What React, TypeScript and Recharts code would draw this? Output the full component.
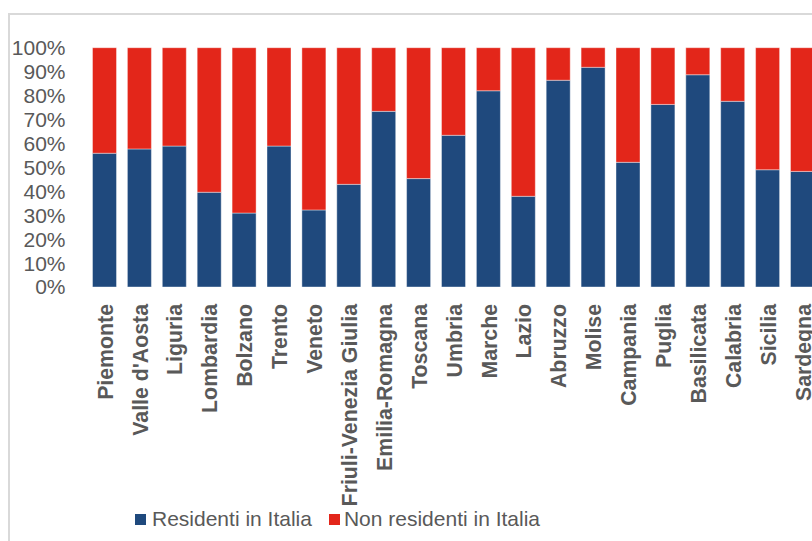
import { BarChart, Bar, XAxis, YAxis, Legend } from "recharts"

const FONT = '"Liberation Sans", Arial, sans-serif'
const TEXT = "#595959"
const BLUE = "#1f497d"
const RED = "#e3261a"

const regions = [
  "Piemonte", "Valle d'Aosta", "Liguria", "Lombardia", "Bolzano", "Trento",
  "Veneto", "Friuli-Venezia Giulia", "Emilia-Romagna", "Toscana", "Umbria",
  "Marche", "Lazio", "Abruzzo", "Molise", "Campania", "Puglia", "Basilicata",
  "Calabria", "Sicilia", "Sardegna",
]

// quota di presenze (%) per provenienza
const residenti = [
  55.9, 57.7, 58.9, 39.6, 30.9, 58.9, 32.2, 42.9, 73.4, 45.3, 63.4,
  82.0, 37.9, 86.4, 91.8, 52.1, 76.3, 88.7, 77.6, 49.0, 48.3,
]
const nonResidenti = [
  44.1, 42.3, 41.1, 60.4, 69.1, 41.1, 67.8, 57.1, 26.6, 54.7, 36.6,
  18.0, 62.1, 13.6, 8.2, 47.9, 23.7, 11.3, 22.4, 51.0, 51.7,
]

const yTicks = [0, 10, 20, 30, 40, 50, 60, 70, 80, 90, 100]

const data = regions.map((region, i) => ({
  region,
  residenti: residenti[i],
  nonResidenti: nonResidenti[i],
}))

function RegionTick({ x, y, payload }: any) {
  return (
    <text
      x={x}
      y={y}
      transform={`rotate(-90 ${x} ${y})`}
      textAnchor="end"
      dy="0.36em"
      fill={TEXT}
      fontSize={21.3}
      fontWeight="bold"
      fontFamily={FONT}
    >
      {payload.value}
    </text>
  )
}

function LegendContent() {
  const item = (color: string, label: string, gap: number, ml: number) => (
    <div style={{ display: "flex", alignItems: "center", marginLeft: ml }}>
      <span style={{ width: 11, height: 11, background: color, marginRight: gap }} />
      <span>{label}</span>
    </div>
  )
  return (
    <div
      style={{
        display: "flex",
        alignItems: "center",
        fontFamily: FONT,
        fontSize: 21,
        lineHeight: "24px",
        color: TEXT,
        whiteSpace: "nowrap",
      }}
    >
      {item(BLUE, "Residenti in Italia", 6, 0)}
      {item(RED, "Non residenti in Italia", 4, 17)}
    </div>
  )
}

export default function App() {
  return (
    <div
      style={{
        position: "absolute",
        left: 0,
        top: 0,
        width: 812,
        height: 541,
        overflow: "hidden",
        background: "#fff",
      }}
    >
      <div
        style={{
          position: "absolute",
          left: 8,
          top: 13,
          width: 900,
          height: 700,
          borderTop: "2px solid #d9d9d9",
          borderLeft: "2px solid #d9d9d9",
        }}
      />
      <div style={{ position: "absolute", left: 0, top: 0 }}>
        <BarChart
          width={830}
          height={541}
          data={data}
          margin={{ top: 47.7, right: 9.6, bottom: 0, left: 0 }}
        >
          <XAxis
            dataKey="region"
            interval={0}
            axisLine={false}
            tickLine={false}
            tickSize={0}
            tickMargin={17}
            height={254}
            tick={<RegionTick />}
          />
          <YAxis
            domain={[0, 100]}
            ticks={yTicks}
            interval={0}
            tickFormatter={(v) => `${v}%`}
            axisLine={false}
            tickLine={false}
            tickSize={0}
            tickMargin={22}
            width={87.5}
            tick={{ fill: TEXT, fontSize: 21, fontFamily: FONT }}
          />
          <Legend
            layout="horizontal"
            verticalAlign="middle"
            align="center"
            wrapperStyle={{ top: 507, left: 135, width: "auto" }}
            content={<LegendContent />}
          />
          <Bar
            dataKey="residenti"
            name="Residenti in Italia"
            stackId="a"
            fill={BLUE}
            stroke="rgba(255,255,255,0.4)"
            strokeWidth={1}
            barSize={24}
            isAnimationActive={false}
          />
          <Bar
            dataKey="nonResidenti"
            name="Non residenti in Italia"
            stackId="a"
            fill={RED}
            stroke="rgba(255,255,255,0.4)"
            strokeWidth={1}
            barSize={24}
            isAnimationActive={false}
          />
        </BarChart>
      </div>
    </div>
  )
}
